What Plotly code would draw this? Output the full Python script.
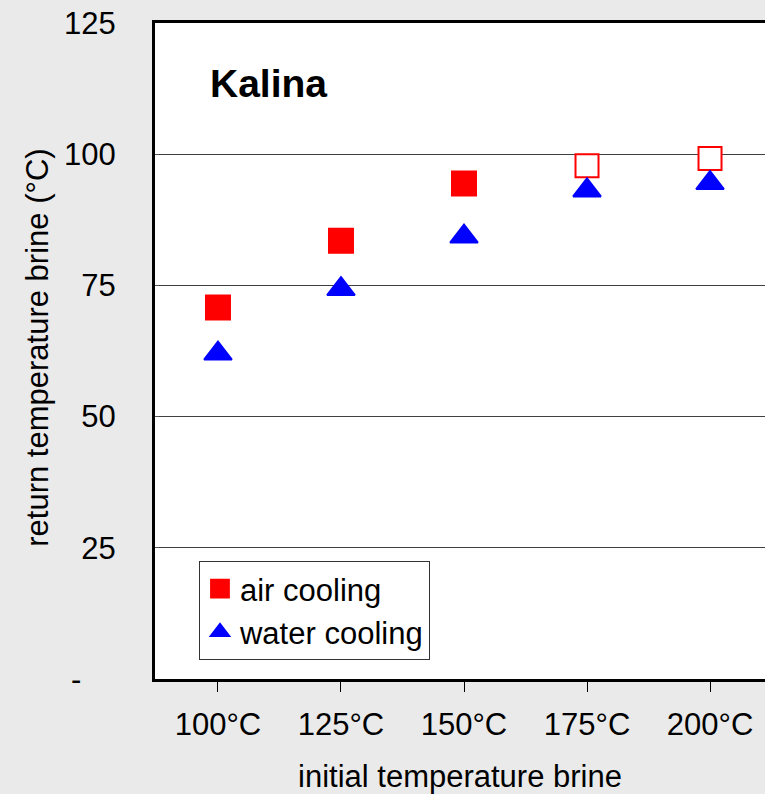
import plotly.graph_objects as go

categories = ["100°C", "125°C", "150°C", "175°C", "200°C"]
air_cooling = [70.8, 83.5, 94.4, 97.8, 99.2]
water_cooling = [62.0, 74.3, 84.3, 93.1, 94.5]
y_tick_vals = [0, 25, 50, 75, 100, 125]
y_tick_text = ["-\u00a0\u00a0\u00a0\u00a0", "25", "50", "75", "100", "125"]

FONT = "Liberation Sans, Arial, sans-serif"
RED = "#ff0000"
BLUE = "#0000ff"

air_fill = [RED, RED, RED, "white", "white"]
air_size = [21, 21, 21, 23, 23]
air_lw = [5, 5, 5, 2, 2]

fig = go.Figure()
fig.add_trace(go.Scatter(
    x=categories, y=air_cooling, mode="markers", name="air cooling",
    marker=dict(symbol="square", size=air_size, color=air_fill, opacity=1,
                line=dict(color=RED, width=air_lw)),
))
fig.add_trace(go.Scatter(
    x=categories, y=water_cooling, mode="markers", name="water cooling",
    marker=dict(symbol="triangle-up", size=24, color=BLUE, opacity=1,
                line=dict(color=BLUE, width=2)),
))

fig.update_layout(
    width=765, height=794,
    margin=dict(l=155, r=0, t=23, b=115),
    paper_bgcolor="#eaeaea", plot_bgcolor="white",
    font=dict(family=FONT, size=31, color="black"),
    showlegend=True,
    legend=dict(
        x=0.0721, y=0.029, xanchor="left", yanchor="bottom",
        bgcolor="white", bordercolor="#333333", borderwidth=1,
        font=dict(family=FONT, size=31, color="black"),
        tracegroupgap=0,
    ),
    xaxis=dict(
        type="category", range=[-0.512, 4.447],
        showline=True, linecolor="black", linewidth=3, mirror=True,
        ticks="outside", ticklen=10, tickwidth=1, tickcolor="black",
        showgrid=False, zeroline=False,
        tickfont=dict(family=FONT, size=31, color="black"),
        ticklabelstandoff=6,
        title=dict(text="initial temperature brine", standoff=25,
                   font=dict(family=FONT, size=31, color="black")),
        automargin=False,
    ),
    yaxis=dict(
        range=[0, 125], tickvals=y_tick_vals, ticktext=y_tick_text,
        showline=True, linecolor="black", linewidth=3, mirror=False,
        ticks="inside", ticklen=4, tickwidth=1, tickcolor="#555555",
        showgrid=True, gridcolor="#404040", gridwidth=1, zeroline=False,
        tickfont=dict(family=FONT, size=31, color="black"),
        ticklabelstandoff=30,
        automargin=False,
    ),
    annotations=[
        dict(
            text="<b>Kalina</b>", xref="paper", yref="paper",
            x=0.0869, y=0.9085, xanchor="left", yanchor="middle",
            showarrow=False, font=dict(family=FONT, size=39, color="black"),
        ),
        dict(
            text="return temperature brine (°C)", xref="paper", yref="paper",
            x=-0.1918, y=0.505, xanchor="center", yanchor="middle",
            textangle=-90, showarrow=False,
            font=dict(family=FONT, size=31, color="black"),
        ),
    ],
)

fig.write_html("out.html")
